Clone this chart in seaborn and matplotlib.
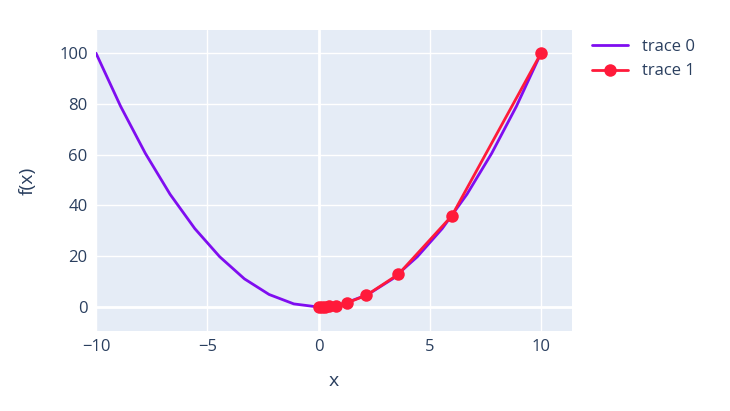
import matplotlib
matplotlib.use("Agg")
import matplotlib.pyplot as plt
import seaborn as sns
import pandas as pd

x0 = [-10, -8.89, -7.78, -6.67, -5.56, -4.44, -3.33, -2.22, -1.11, 0,
      1.11, 2.22, 3.33, 4.44, 5.56, 6.67, 7.78, 8.89, 10]
y0 = [100, 79.0, 60.5, 44.4, 30.9, 19.8, 11.1, 4.94, 1.23, 0,
      1.23, 4.94, 11.1, 19.8, 30.9, 44.4, 60.5, 79.0, 100]
x1 = [0, 0.17, 0.28, 0.46, 0.77, 1.29, 2.15, 3.59, 5.99, 10]
y1 = [0, 0.03, 0.08, 0.21, 0.59, 1.66, 4.62, 12.9, 35.9, 100]

sns.set_style("white")
plt.rcParams['font.family'] = ['Open Sans', 'DejaVu Sans']
txt = "#2a3f5f"

fig = plt.figure(figsize=(7.3, 4.11), dpi=100)
ax = fig.add_axes([0.1315, 0.1946, 0.652, 0.732])
ax.set_facecolor("#E5ECF6")
for s in ax.spines.values():
    s.set_visible(False)
ax.set_xlim(-10, 11.39)
ax.set_ylim(-9.45, 109.06)
ax.set_xticks([-10, -5, 0, 5, 10])
ax.set_xticklabels(["\u221210", "\u22125", "0", "5", "10"])
ax.set_yticks([0, 20, 40, 60, 80, 100])
ax.grid(True, color="white", lw=1)
ax.axvline(0, color="white", lw=2, zorder=1)
ax.axhline(0, color="white", lw=2, zorder=1)
ax.set_axisbelow(True)
ax.tick_params(length=0, labelsize=12, colors=txt, pad=6)

sns.lineplot(x=x0, y=y0, ax=ax, color="#7f0df0", lw=2, label="trace 0", sort=False)
sns.lineplot(x=x1, y=y1, ax=ax, color="#ff1a3a", lw=2, marker="o", markersize=9,
             markeredgewidth=0, label="trace 1", sort=False)

ax.set_xlabel("x", fontsize=14, color=txt, labelpad=12)
ax.set_ylabel("f(x)", fontsize=14, color=txt, labelpad=16)
leg = ax.legend(loc="upper left", bbox_to_anchor=(1.01, 1.02), frameon=False,
                fontsize=12, handlelength=2.2)
for t in leg.get_texts():
    t.set_color(txt)
fig.savefig("out.png", dpi=100)
